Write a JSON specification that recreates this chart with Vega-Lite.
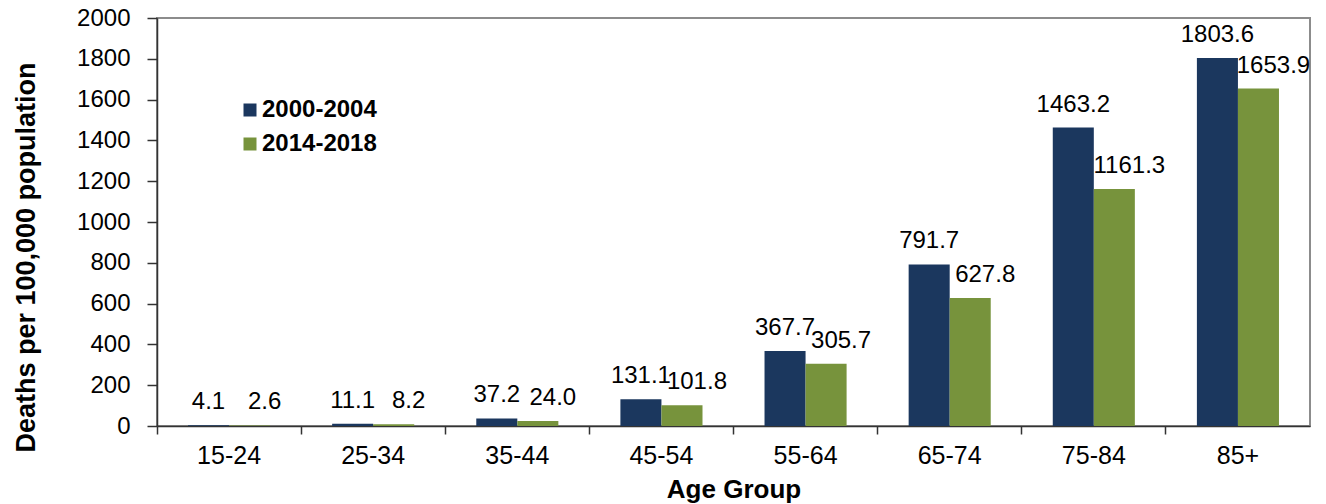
{
  "$schema": "https://vega.github.io/schema/vega-lite/v6.json",
  "width": 1153,
  "height": 408,
  "autosize": "none",
  "padding": {"left": 157, "top": 18, "right": 16, "bottom": 78},
  "background": "white",
  "config": {
    "font": "Liberation Sans",
    "view": {"stroke": "#8c8c8c", "strokeWidth": 2}
  },
  "data": {
    "values": [
      {"age": "15-24", "period": "2000-2004", "rate": 4.1},
      {"age": "15-24", "period": "2014-2018", "rate": 2.6},
      {"age": "25-34", "period": "2000-2004", "rate": 11.1},
      {"age": "25-34", "period": "2014-2018", "rate": 8.2},
      {"age": "35-44", "period": "2000-2004", "rate": 37.2},
      {"age": "35-44", "period": "2014-2018", "rate": 24.0},
      {"age": "45-54", "period": "2000-2004", "rate": 131.1},
      {"age": "45-54", "period": "2014-2018", "rate": 101.8},
      {"age": "55-64", "period": "2000-2004", "rate": 367.7},
      {"age": "55-64", "period": "2014-2018", "rate": 305.7},
      {"age": "65-74", "period": "2000-2004", "rate": 791.7},
      {"age": "65-74", "period": "2014-2018", "rate": 627.8},
      {"age": "75-84", "period": "2000-2004", "rate": 1463.2},
      {"age": "75-84", "period": "2014-2018", "rate": 1161.3},
      {"age": "85+", "period": "2000-2004", "rate": 1803.6},
      {"age": "85+", "period": "2014-2018", "rate": 1653.9}
    ]
  },
  "encoding": {
    "x": {
      "field": "age",
      "type": "nominal",
      "sort": ["15-24", "25-34", "35-44", "45-54", "55-64", "65-74", "75-84", "85+"],
      "scale": {"paddingInner": 0, "paddingOuter": 0},
      "axis": {
        "title": "Age Group",
        "titleFontSize": 26,
        "titleFontWeight": "bold",
        "titleColor": "black",
        "titlePadding": 8,
        "labelAngle": 0,
        "labelFontSize": 25,
        "labelColor": "black",
        "labelPadding": 9,
        "bandPosition": 0,
        "tickSize": 8,
        "tickColor": "#333333",
        "tickWidth": 1.5,
        "domainColor": "#333333",
        "domainWidth": 1.5,
        "grid": false
      }
    },
    "xOffset": {
      "field": "period",
      "sort": ["2000-2004", "2014-2018"],
      "scale": {"paddingInner": 0, "paddingOuter": 0.756}
    },
    "y": {
      "field": "rate",
      "type": "quantitative",
      "scale": {"domain": [0, 2000], "nice": false},
      "axis": {
        "title": "Deaths per 100,000 population",
        "titleFontSize": 27,
        "titleFontWeight": "bold",
        "titleColor": "black",
        "titlePadding": 36,
        "titleY": 239,
        "values": [0, 200, 400, 600, 800, 1000, 1200, 1400, 1600, 1800, 2000],
        "format": "d",
        "labelFontSize": 24,
        "labelColor": "black",
        "labelPadding": 17,
        "tickSize": 10,
        "tickColor": "#333333",
        "tickWidth": 1.5,
        "domainColor": "#333333",
        "domainWidth": 1.5,
        "grid": false
      }
    }
  },
  "layer": [
    {
      "mark": {"type": "bar"},
      "encoding": {
        "color": {
          "field": "period",
          "type": "nominal",
          "scale": {"domain": ["2000-2004", "2014-2018"], "range": ["#1b375e", "#77933c"]},
          "legend": {
            "title": null,
            "orient": "none",
            "legendX": 81,
            "legendY": 80,
            "padding": 0,
            "symbolType": "square",
            "symbolSize": 169,
            "symbolStrokeWidth": 0,
            "labelFontSize": 24,
            "labelFontWeight": "bold",
            "labelColor": "black",
            "labelOffset": 0,
            "rowPadding": 10
          }
        }
      }
    },
    {
      "transform": [{"filter": "datum.period == '2000-2004'"}],
      "mark": {"type": "text", "baseline": "alphabetic", "dy": -16, "fontSize": 24, "color": "black"},
      "encoding": {"text": {"field": "rate", "type": "quantitative", "format": ".1f"}}
    },
    {
      "transform": [{"filter": "datum.period == '2014-2018'"}],
      "mark": {"type": "text", "baseline": "alphabetic", "dy": -16, "dx": 15, "fontSize": 24, "color": "black"},
      "encoding": {"text": {"field": "rate", "type": "quantitative", "format": ".1f"}}
    }
  ]
}
